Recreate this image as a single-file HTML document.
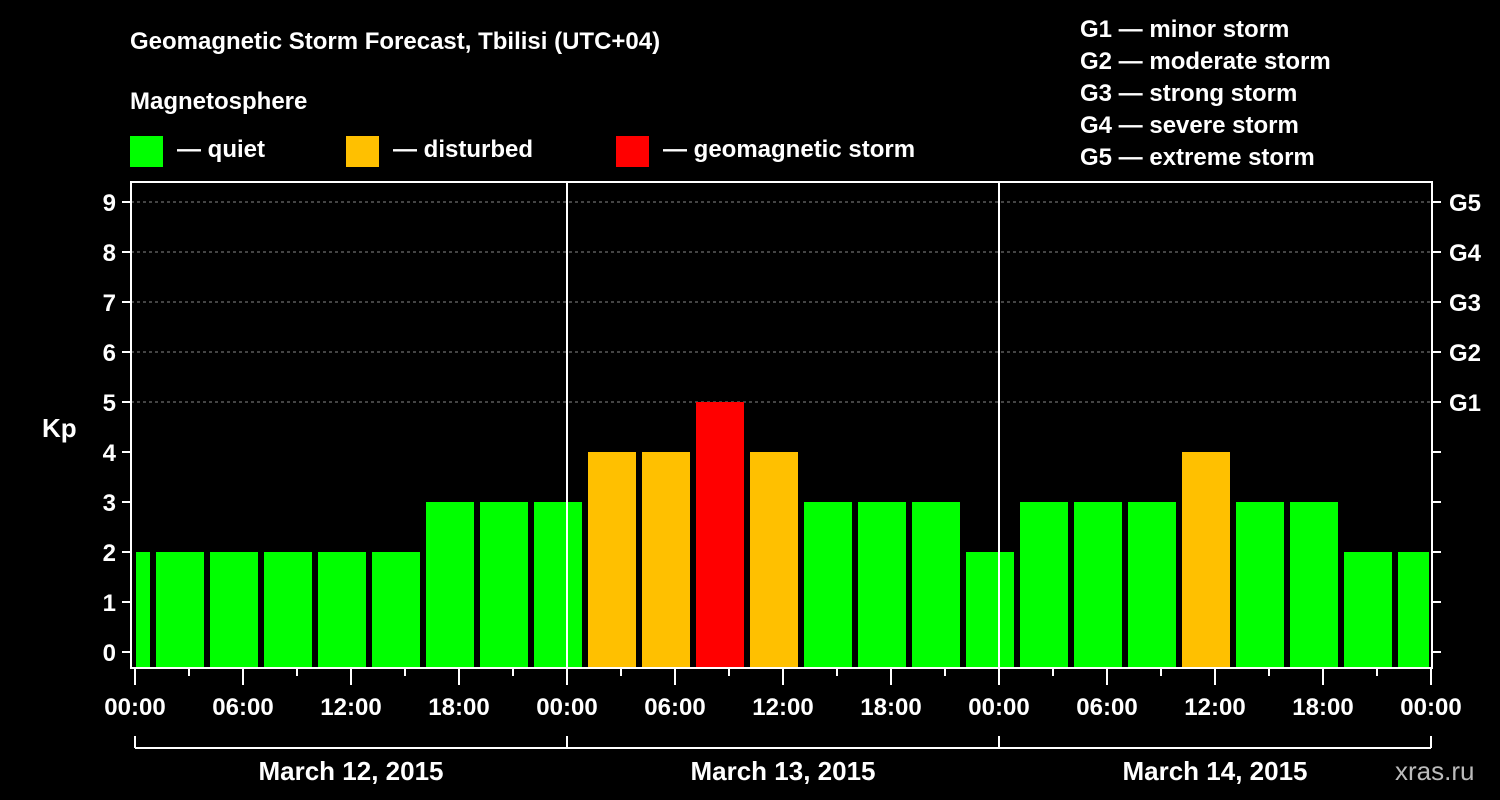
<!DOCTYPE html>
<html><head><meta charset="utf-8"><style>
body{margin:0;background:#000;width:1500px;height:800px;overflow:hidden}
svg{display:block;font-family:"Liberation Sans",sans-serif;font-weight:bold;fill:#fff}
</style></head><body>
<svg id="c" width="1500" height="800">
<text x="130" y="49" font-size="24">Geomagnetic Storm Forecast, Tbilisi (UTC+04)</text>
<text x="130" y="109" font-size="24">Magnetosphere</text>
<g><rect x="130" y="136" width="33" height="31" fill="#00ff00"/><text x="177" y="157" font-size="24">— quiet</text></g>
<g><rect x="346" y="136" width="33" height="31" fill="#ffc000"/><text x="393" y="157" font-size="24">— disturbed</text></g>
<g><rect x="616" y="136" width="33" height="31" fill="#ff0000"/><text x="663" y="157" font-size="24">— geomagnetic storm</text></g>
<g font-size="24">
<text x="1080" y="37">G1 — minor storm</text>
<text x="1080" y="69">G2 — moderate storm</text>
<text x="1080" y="101">G3 — strong storm</text>
<text x="1080" y="133">G4 — severe storm</text>
<text x="1080" y="165">G5 — extreme storm</text>
</g>
<text x="42" y="437" font-size="26">Kp</text>
<text x="1395" y="780" font-size="26" fill="#bbb" style="font-weight:normal">xras.ru</text>
<g id="marks"></g>
</svg>
<script>
const kpValues=[2,2,2,2,2,2,3,3,3,4,4,5,4,3,3,3,2,3,3,3,4,3,3,2,2];
const binStartHours=[-2,1,4,7,10,13,16,19,22,25,28,31,34,37,40,43,46,49,52,55,58,61,64,67,70];
const dayLabels=["March 12, 2015","March 13, 2015","March 14, 2015"];
const yTicks=[0,1,2,3,4,5,6,7,8,9];
const gLabels=["G1","G2","G3","G4","G5"];
const NS="http://www.w3.org/2000/svg";
const g=document.getElementById('marks');
const L=131,R=1432,T=182,B=668,X0=135,PXH=18;
const xs=h=>X0+h*PXH, ys=v=>652-v*50;
function mk(t,a){const e=document.createElementNS(NS,t);for(const k in a)e.setAttribute(k,a[k]);g.appendChild(e);return e;}
function col(v){return v>=5?"#ff0000":v>=4?"#ffc000":"#00ff00";}
// grid
for(let v=5;v<=9;v++){const e=mk('line',{x1:L,x2:R,y1:ys(v),y2:ys(v),stroke:'#888','stroke-dasharray':'3,3','stroke-width':1});

}
// bars
kpValues.forEach((v,i)=>{let x1=xs(binStartHours[i])+3,x2=xs(binStartHours[i]+3)-3;
x1=Math.max(x1,X0+1);x2=Math.min(x2,xs(72)-2);
const e=mk('rect',{x:x1,y:ys(v),width:x2-x1,height:B-ys(v),fill:col(v)});

});
// day separators
[24,48].forEach(h=>{const e=mk('line',{x1:xs(h),x2:xs(h),y1:T,y2:B,stroke:'#fff','stroke-width':2});

});
// frame
const f=mk('rect',{x:L,y:T,width:R-L,height:B-T,fill:'none',stroke:'#fff','stroke-width':2});


// y ticks
yTicks.forEach(v=>{mk('line',{x1:122,x2:L,y1:ys(v),y2:ys(v),stroke:'#fff','stroke-width':2});
mk('line',{x1:R,x2:1441,y1:ys(v),y2:ys(v),stroke:'#fff','stroke-width':2});
const t=mk('text',{x:116,y:ys(v)+9,'font-size':24,'text-anchor':'end'});t.textContent=v;

});
gLabels.forEach((s,i)=>{const t=mk('text',{x:1449,y:ys(5+i)+9,'font-size':24});t.textContent=s;

});
// x ticks
for(let h=0;h<=72;h+=3){const major=h%6===0;mk('line',{x1:xs(h),x2:xs(h),y1:B,y2:major?685:676,stroke:'#fff','stroke-width':2});
if(major){const t=mk('text',{x:xs(h),y:715,'font-size':24,'text-anchor':'middle'});t.textContent=String(h%24).padStart(2,'0')+':00';

}}
// day bracket
mk('line',{x1:xs(0),x2:xs(72),y1:748,y2:748,stroke:'#fff','stroke-width':2});
[0,24,48,72].forEach(h=>mk('line',{x1:xs(h),x2:xs(h),y1:736,y2:748,stroke:'#fff','stroke-width':2}));
dayLabels.forEach((s,i)=>{const t=mk('text',{x:xs(i*24+12),y:780,'font-size':26,'text-anchor':'middle'});t.textContent=s;

});
</script>
</body></html>
